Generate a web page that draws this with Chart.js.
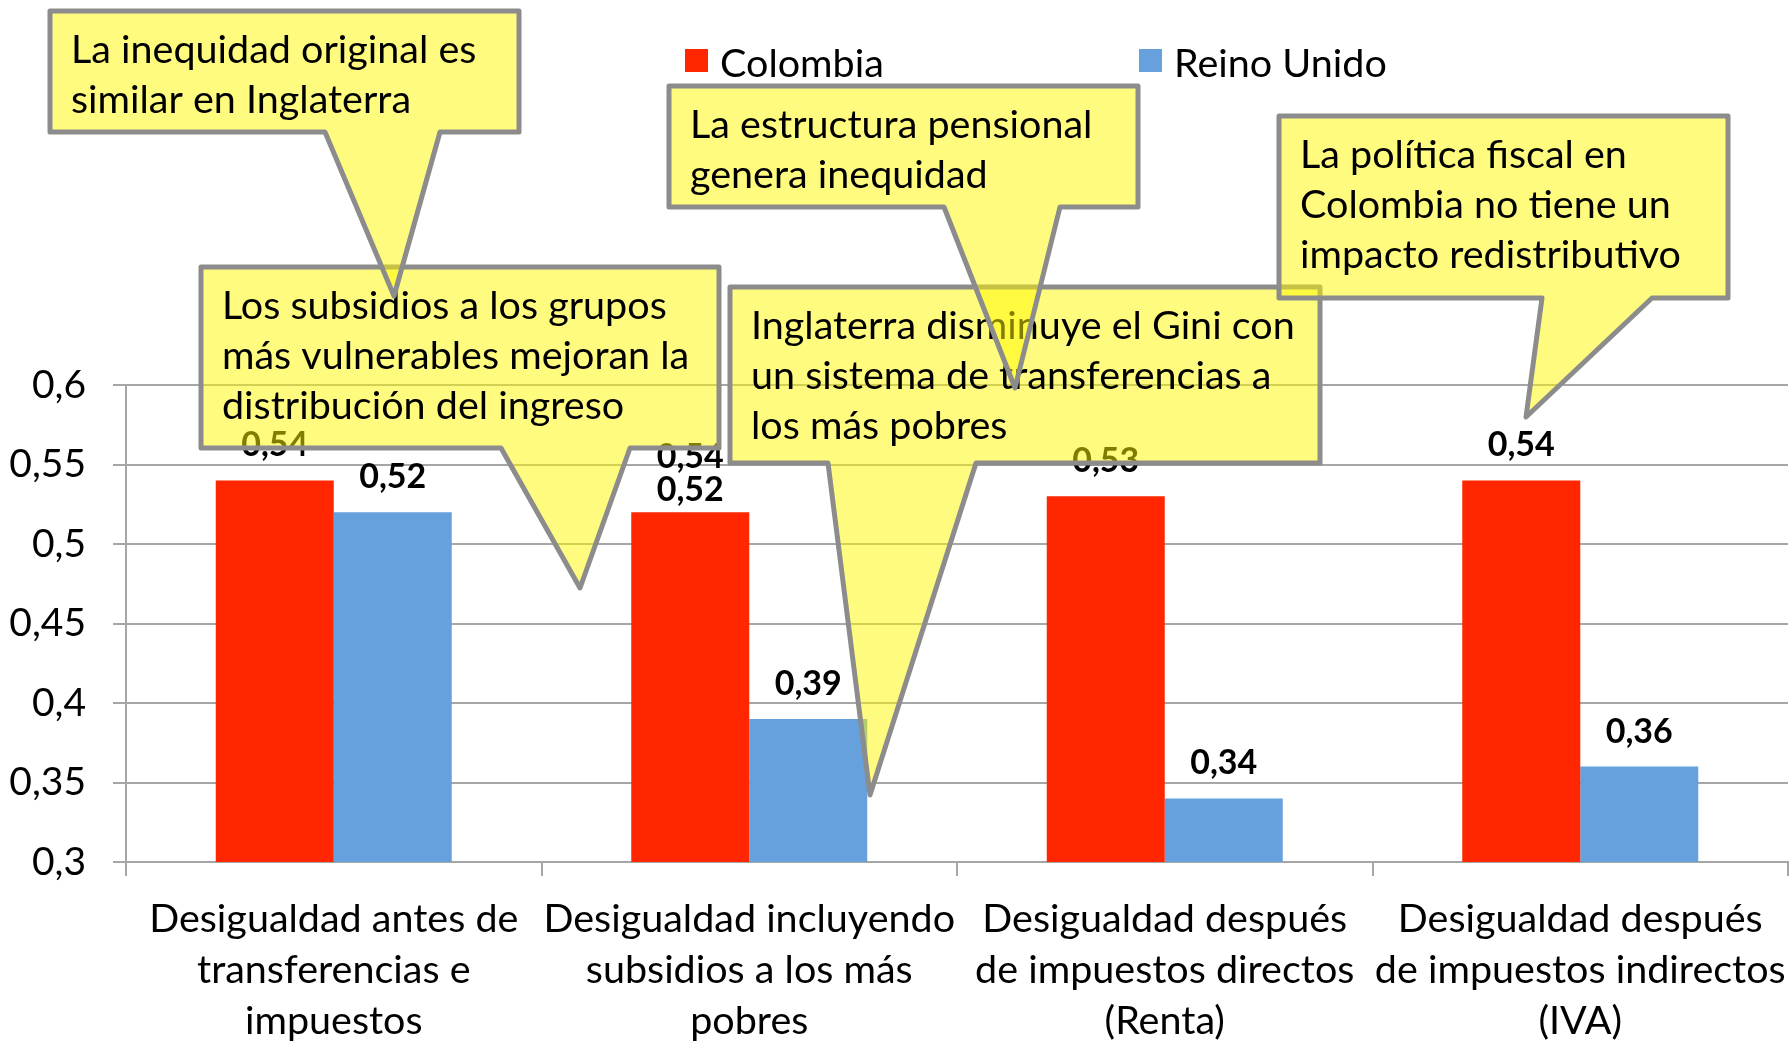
<!DOCTYPE html>
<html>
<head>
<meta charset="utf-8">
<script src="https://cdn.jsdelivr.net/npm/chart.js@4.4.0/dist/chart.umd.min.js"></script>
<style>
    html, body { margin: 0; padding: 0; background: #ffffff; }
    #wrap { width: 1791px; height: 1041px; position: relative; }
</style>
</head>
<body>
<div id="wrap"><canvas id="canvas1"></canvas></div>
<script>
//----------------DATOS

const categorias = [
    ['Desigualdad antes de', 'transferencias e', 'impuestos'],
    ['Desigualdad incluyendo', 'subsidios a los más', 'pobres'],
    ['Desigualdad después', 'de impuestos directos', '(Renta)'],
    ['Desigualdad después', 'de impuestos indirectos', '(IVA)']
];
const colombia = [0.54, 0.52, 0.53, 0.54];
const reinoUnido = [0.52, 0.39, 0.34, 0.36];
// etiqueta suelta que aparece encima del valor de Colombia en el grupo 2
const etiquetaExtraColombia = [null, 0.54, null, null];
const ticksY = ['0,3', '0,35', '0,4', '0,45', '0,5', '0,55', '0,6'];

const textosNotas = [
    ['Los subsidios a los grupos', 'más vulnerables mejoran la', 'distribución del ingreso'],
    ['Inglaterra disminuye el Gini con', 'un sistema de transferencias a', 'los más pobres'],
    ['La inequidad original es', 'similar en Inglaterra'],
    ['La estructura pensional', 'genera inequidad'],
    ['La política fiscal en', 'Colombia no tiene un', 'impacto redistributivo']
];

//----------------FORMATO

const FUENTE = 'Lato';
const ROJO = '#ff2600';
const AZUL = '#66a1dd';
const GRIS = '#a6a6a6';

// cajas de las notas: caja [x1, y1, x2, y2], cola [baseIzq, baseDer, puntaX, puntaY]
const cajasNotas = [
    { caja: [201, 267, 719, 448], cola: [501, 630, 580, 588] },
    { caja: [730, 287, 1320, 463], cola: [828, 976, 870, 795] },
    { caja: [50, 11, 519, 132], cola: [325, 440, 394, 296] },
    { caja: [669, 86, 1138, 207], cola: [944, 1060, 1015, 388] },
    { caja: [1279, 116, 1728, 298], cola: [1542, 1652, 1526, 417] }
];

const coma = v => v.toFixed(2).replace(/0+$/, '').replace(/\.$/, '').replace('.', ',');

//----------------PLUGINS

const etiquetas = {
    id: 'etiquetas',
    afterDatasetsDraw(chart) {
        const ctx = chart.ctx;
        ctx.save();
        ctx.font = 'bold 34px ' + FUENTE;
        ctx.fillStyle = '#000000';
        ctx.textAlign = 'center';
        ctx.textBaseline = 'middle';
        chart.data.datasets.forEach((ds, d) => {
            chart.getDatasetMeta(d).data.forEach((bar, i) => {
                const extra = d === 0 ? etiquetaExtraColombia[i] : null;
                if (extra !== null) {
                    ctx.fillText(coma(ds.data[i]), bar.x, bar.y - 22);
                    ctx.fillText(coma(extra), bar.x, bar.y - 55);
                } else {
                    ctx.fillText(coma(ds.data[i]), bar.x, bar.y - 35);
                }
            });
        });
        ctx.restore();
    }
};

const leyenda = {
    id: 'leyenda',
    afterDraw(chart) {
        const ctx = chart.ctx;
        const xs = [685, 1139];
        ctx.save();
        ctx.font = '39.5px ' + FUENTE;
        ctx.textBaseline = 'middle';
        chart.data.datasets.forEach((ds, d) => {
            ctx.fillStyle = ds.backgroundColor;
            ctx.fillRect(xs[d], 49, 23, 23);
            ctx.fillStyle = '#000000';
            ctx.fillText(ds.label, xs[d] + 35, 64);
        });
        ctx.restore();
    }
};

const notas = {
    id: 'notas',
    afterDraw(chart) {
        const ctx = chart.ctx;
        ctx.save();
        cajasNotas.forEach((n, k) => {
            const [x1, y1, x2, y2] = n.caja;
            const [b1, b2, px, py] = n.cola;
            ctx.beginPath();
            ctx.moveTo(x1, y1);
            ctx.lineTo(x2, y1);
            ctx.lineTo(x2, y2);
            ctx.lineTo(b2, y2);
            ctx.lineTo(px, py);
            ctx.lineTo(b1, y2);
            ctx.lineTo(x1, y2);
            ctx.closePath();
            ctx.fillStyle = 'rgba(255, 248, 0, 0.5)';
            ctx.fill();
            ctx.strokeStyle = '#8c8c8c';
            ctx.lineWidth = 5;
            ctx.lineJoin = 'round';
            ctx.stroke();

            ctx.fillStyle = '#000000';
            ctx.font = '39.5px ' + FUENTE;
            ctx.textAlign = 'left';
            ctx.textBaseline = 'alphabetic';
            textosNotas[k].forEach((linea, j) => {
                ctx.fillText(linea, x1 + 21, y1 + 52 + j * 50);
            });
        });
        ctx.restore();
    }
};

//----------------GRAFICO

const ctx1 = document.getElementById('canvas1');

new Chart(ctx1, {
    type: 'bar',
    data: {
        labels: categorias,
        datasets: [{
            label: 'Colombia',
            data: colombia,
            backgroundColor: ROJO,
            borderWidth: 0
        },
        {
            label: 'Reino Unido',
            data: reinoUnido,
            backgroundColor: AZUL,
            borderWidth: 0
        }]
    },
    options: {
        responsive: true,
        maintainAspectRatio: false,
        animation: false,
        categoryPercentage: 0.568,
        barPercentage: 1,
        layout: {
            padding: { top: 385, right: 3, left: 0, bottom: 0 }
        },
        plugins: {
            legend: { display: false },
            tooltip: { enabled: false }
        },
        scales: {
            x: {
                grid: {
                    drawOnChartArea: false,
                    drawTicks: true,
                    tickLength: 14,
                    color: GRIS,
                    lineWidth: 2
                },
                border: { display: true, color: GRIS, width: 2 },
                ticks: {
                    color: '#000000',
                    font: { family: FUENTE, size: 39.5, lineHeight: 1.29 },
                    padding: 18,
                    maxRotation: 0,
                    minRotation: 0,
                    autoSkip: false
                },
                afterFit(scale) {
                    scale.height = 179;
                    scale.paddingLeft = 0;
                    scale.paddingRight = 0;
                }
            },
            y: {
                min: 0.3,
                max: 0.6,
                grid: {
                    color: GRIS,
                    lineWidth: 2,
                    drawTicks: true,
                    tickLength: 13
                },
                border: { display: true, color: GRIS, width: 2 },
                ticks: {
                    stepSize: 0.05,
                    color: '#000000',
                    font: { family: FUENTE, size: 39 },
                    padding: 27,
                    callback: (v, i) => ticksY[i]
                },
                afterFit(scale) {
                    scale.width = 126;
                }
            }
        }
    },
    plugins: [etiquetas, notas, leyenda]
});
</script>
</body>
</html>
